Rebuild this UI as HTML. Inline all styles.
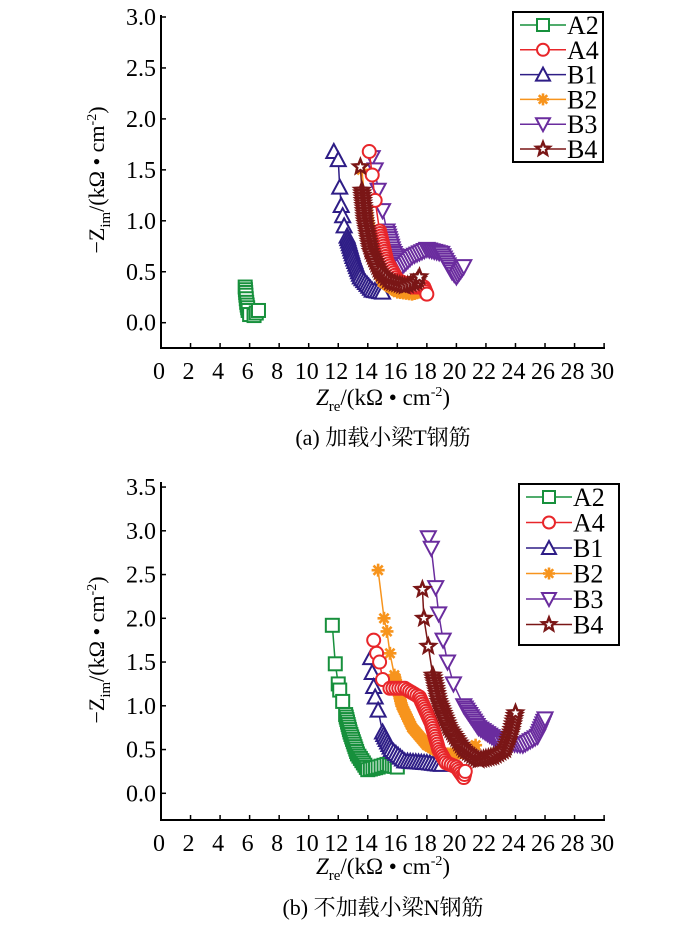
<!DOCTYPE html>
<html><head><meta charset="utf-8"><style>
body{margin:0;background:#fff;}
svg{display:block;font-family:"Liberation Serif","Noto Serif CJK SC",serif;}
</style></head><body>
<svg id="s" width="700" height="929" xmlns="http://www.w3.org/2000/svg"></svg>
<script>
const S=document.getElementById('s');
let h='';
const C={A2:'#17903c',A4:'#e8262a',B1:'#2e1d86',B2:'#f7941d',B3:'#6a2c9e',B4:'#7a1616'};
const X=x=>161+14.77*x;
function marker(t,x,y,c,r){
 r=r||6.5;
 if(t=='A2')return `<rect x="${x-r}" y="${y-r}" width="${2*r}" height="${2*r}" fill="#fff" stroke="${c}" stroke-width="2"/>`;
 if(t=='A4')return `<circle cx="${x}" cy="${y}" r="${r}" fill="#fff" stroke="${c}" stroke-width="2"/>`;
 if(t=='B1')return `<polygon points="${x},${y-r-1} ${x-r-1},${y+r} ${x+r+1},${y+r}" fill="#fff" stroke="${c}" stroke-width="2"/>`;
 if(t=='B3')return `<polygon points="${x},${y+r+1} ${x-r-1},${y-r} ${x+r+1},${y-r}" fill="#fff" stroke="${c}" stroke-width="2"/>`;
 if(t=='B2'){let s='';for(let a=0;a<4;a++){const q=a*Math.PI/4;s+=`<line x1="${x-r*Math.cos(q)}" y1="${y-r*Math.sin(q)}" x2="${x+r*Math.cos(q)}" y2="${y+r*Math.sin(q)}" stroke="${c}" stroke-width="2.6"/>`;}return s;}
 if(t=='B4'){let p=[];for(let i=0;i<10;i++){const rr=i%2?r*0.5:r+1;const q=-Math.PI/2+i*Math.PI/5;p.push((x+rr*Math.cos(q)).toFixed(1)+','+(y+rr*Math.sin(q)).toFixed(1));}return `<polygon points="${p.join(' ')}" fill="#fff" stroke="${c}" stroke-width="2.4"/>`;}
}
function series(t,pts,Y,dense){
 const c=C[t];
 const P=pts.map(p=>[X(p[0]),Y(p[1]),p[1]]);
 h+=`<polyline fill="none" stroke="${c}" stroke-width="1.5" points="${P.map(p=>p[0]+','+p[1]).join(' ')}"/>`;
 let m=[];
 for(let i=0;i<P.length;i++){
  m.push(P[i]);
  if(i<P.length-1&&P[i][2]<dense){
   const dx=P[i+1][0]-P[i][0],dy=P[i+1][1]-P[i][1];const L=Math.hypot(dx,dy);const n=Math.floor(L/2.5);
   for(let k=1;k<n;k++)m.push([P[i][0]+dx*k/n,P[i][1]+dy*k/n]);
  }
 }
 m.forEach(p=>h+=marker(t,p[0],p[1],c));
}
function axes(Y,yt,ytop,ybot){
 h+=`<line x1="161" y1="${ytop}" x2="161" y2="${ybot}" stroke="#000" stroke-width="2"/>`;
 h+=`<line x1="160" y1="${ybot}" x2="605" y2="${ybot}" stroke="#000" stroke-width="2"/>`;
 for(let i=0;i<=30;i+=2){const x=X(i);h+=`<line x1="${x}" y1="${ybot}" x2="${x}" y2="${ybot-5}" stroke="#000" stroke-width="1.5"/>`;
  h+=`<text x="${x-2}" y="${ybot+31}" font-size="24" text-anchor="middle">${i}</text>`;}
 yt.forEach(v=>{const y=Y(v);h+=`<line x1="161" y1="${y}" x2="166" y2="${y}" stroke="#000" stroke-width="1.5"/>`;
  h+=`<text x="156" y="${y+8}" font-size="24" text-anchor="end">${v.toFixed(1)}</text>`;});
}
function legend(x,y,w,hh,sp){
 h+=`<rect x="${x}" y="${y}" width="${w}" height="${hh}" fill="#fff" stroke="#000" stroke-width="2"/>`;
 ['A2','A4','B1','B2','B3','B4'].forEach((t,i)=>{const yy=y+13+i*sp;
  h+=`<line x1="${x+7}" y1="${yy}" x2="${x+53}" y2="${yy}" stroke="${C[t]}" stroke-width="1.5"/>`;
  h+=marker(t,x+30,yy,C[t],6);
  h+=`<text x="${x+54}" y="${yy+9}" font-size="26">${t}</text>`;});
}
function labels(ymid,xl,cap,capText){
 h+=`<text transform="translate(104,${ymid}) rotate(-90)" font-size="22" text-anchor="middle">−Z<tspan font-size="15" dy="6">im</tspan><tspan dy="-6">/(kΩ • cm</tspan><tspan font-size="14" dy="-8">-2</tspan><tspan dy="8">)</tspan></text>`;
 h+=`<text x="383" y="${xl}" font-size="23" text-anchor="middle"><tspan font-style="italic">Z</tspan><tspan font-size="15" dy="6">re</tspan><tspan dy="-6">/(kΩ • cm</tspan><tspan font-size="14" dy="-9">-2</tspan><tspan dy="9">)</tspan></text>`;
 h+=`<text x="383" y="${cap}" font-size="22" text-anchor="middle">${capText}</text>`;
}
const Y1=y=>322.7-101.9*y;
axes(Y1,[0,0.5,1,1.5,2,2.5,3],15,348);
series('A2',[[5.7,0.35],[5.75,0.27],[5.8,0.2],[5.9,0.12],[6.0,0.08],[6.3,0.07],[6.6,0.12]],Y1,0.4);
series('B1',[[11.7,1.68],[12.0,1.6],[12.1,1.33],[12.2,1.15],[12.3,1.05],[12.4,0.95],[12.6,0.85],[13.0,0.65],[13.5,0.45],[14.3,0.32],[15,0.3]],Y1,0.9);
series('B3',[[14.3,1.62],[14.5,1.5],[14.7,1.3],[15,1.1],[15.3,0.9],[15.7,0.7],[16.3,0.55],[17,0.65],[18,0.72],[19,0.68],[19.7,0.5],[20,0.45],[20.5,0.55]],Y1,0.95);
series('B2',[[13.6,1.5],[13.8,1.2],[14,1],[14.5,0.6],[15,0.4],[16,0.3],[17,0.28],[17.5,0.3]],Y1,1.3);
series('A4',[[14.1,1.68],[14.3,1.45],[14.5,1.2],[14.8,0.9],[15.3,0.6],[16,0.42],[17,0.35],[17.8,0.35],[18,0.28]],Y1,0.95);
series('B4',[[13.5,1.53],[13.6,1.3],[13.8,1.0],[14.2,0.7],[14.8,0.5],[15.5,0.4],[16.5,0.36],[17.3,0.4],[17.5,0.45]],Y1,1.4);
legend(513,12,90,150,24.8);
labels(180,405,445,'(a) 加载小梁T钢筋');
const Y2=y=>793.3-87.5*y;
axes(Y2,[0,0.5,1,1.5,2,2.5,3,3.5],482,820);
series('A2',[[11.6,1.92],[11.8,1.48],[12.0,1.25],[12.1,1.18],[12.3,1.05],[12.5,0.9],[12.8,0.7],[13.3,0.45],[14,0.27],[14.7,0.3],[15.3,0.33],[16,0.3]],Y2,1.0);
series('B1',[[14.2,1.55],[14.3,1.38],[14.4,1.22],[14.5,1.1],[14.7,0.95],[15,0.7],[15.6,0.5],[16.5,0.37],[18,0.35],[19,0.33]],Y2,0.9);
series('B2',[[14.7,2.55],[15.1,2.0],[15.3,1.85],[15.5,1.6],[15.8,1.35],[16.3,1.0],[17,0.75],[18,0.55],[19,0.45],[20,0.45],[21,0.5],[21.3,0.55]],Y2,1.4);
series('A4',[[14.4,1.75],[14.6,1.6],[14.8,1.5],[15,1.3],[15.5,1.2],[16.5,1.2],[17.5,1.1],[18.3,0.8],[18.8,0.5],[19.3,0.35],[20,0.3],[20.5,0.18],[20.6,0.25]],Y2,1.25);
series('B3',[[18.1,2.92],[18.3,2.8],[18.6,2.35],[18.8,2.05],[19.1,1.75],[19.4,1.5],[19.8,1.25],[20.5,1.0],[21.5,0.75],[23,0.58],[24.5,0.55],[25.5,0.65],[26,0.85]],Y2,1.2);
series('B4',[[17.7,2.33],[17.8,2.0],[18.1,1.68],[18.4,1.35],[18.8,1.05],[19.5,0.75],[20.5,0.5],[21.5,0.38],[22.5,0.42],[23.3,0.5],[23.7,0.7],[24,0.92]],Y2,1.4);
legend(519,484,100,161,25.5);
labels(650,874,915,'(b) 不加载小梁N钢筋');
S.innerHTML=h;
</script>
</body></html>
